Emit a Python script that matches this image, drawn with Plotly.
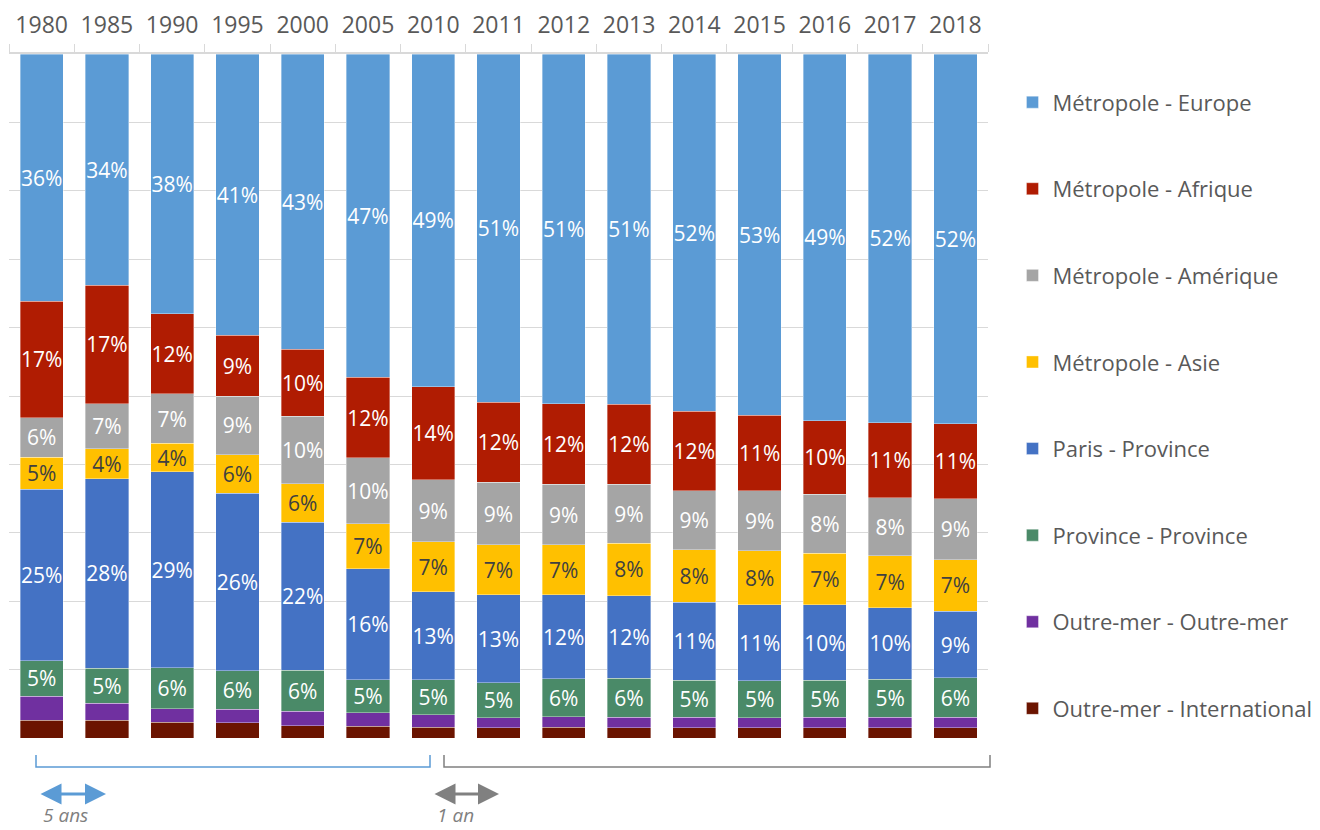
import plotly.graph_objects as go

years = ["1980", "1985", "1990", "1995", "2000", "2005", "2010", "2011",
         "2012", "2013", "2014", "2015", "2016", "2017", "2018"]

# raw shares (%) per route, as labelled; the chart is normalised to 100 %
europe   = [36.1, 33.9, 38.0, 41.1, 43.1, 47.2, 48.7, 51.0, 51.2, 51.2, 52.2, 52.9, 49.0, 52.0, 52.2]
afrique  = [17.0, 17.3, 11.7,  8.9,  9.8, 11.8, 13.6, 11.7, 11.8, 11.7, 11.6, 11.0,  9.8, 10.6, 10.6]
amerique = [ 5.8,  6.6,  7.2,  8.6,  9.9,  9.6,  9.1,  9.1,  8.8,  8.6,  8.6,  8.8,  7.9,  8.2,  8.6]
asie     = [ 4.7,  4.4,  4.2,  5.6,  5.6,  6.6,  7.3,  7.3,  7.3,  7.7,  7.7,  7.9,  6.9,  7.3,  7.3]
paris    = [25.0, 27.8, 28.6, 26.0, 21.6, 16.2, 12.9, 12.9, 12.3, 12.1, 11.4, 11.1, 10.1, 10.1,  9.4]
province = [ 5.2,  5.1,  6.0,  5.6,  6.0,  4.8,  5.1,  5.1,  5.6,  5.7,  5.4,  5.4,  4.9,  5.4,  5.6]
om_om    = [ 3.5,  2.5,  2.0,  2.0,  2.1,  2.0,  1.8,  1.5,  1.5,  1.5,  1.5,  1.5,  1.4,  1.45, 1.45]
om_int   = [ 2.6,  2.6,  2.3,  2.2,  1.8,  1.7,  1.6,  1.5,  1.6,  1.5,  1.5,  1.5,  1.4,  1.45, 1.45]

names = ["Outre-mer - International", "Outre-mer - Outre-mer", "Province - Province",
         "Paris - Province", "Métropole - Asie", "Métropole - Amérique",
         "Métropole - Afrique", "Métropole - Europe"]
series = [om_int, om_om, province, paris, asie, amerique, afrique, europe]
colors = ["#6B1400", "#7030A0", "#4A8A68", "#4472C4", "#FFC000", "#A5A5A5", "#B01C02", "#5B9BD5"]
labelled = [False, False, True, True, True, True, True, True]
text_colors = ["white", "white", "white", "white", "#404040", "white", "white", "white"]

FONT = "Open Sans"
fig = go.Figure()
n = len(names)
for i, (nm, vals, col) in enumerate(zip(names, series, colors)):
    fig.add_trace(go.Bar(
        x=years, y=vals, name=nm,
        marker=dict(color=col, line=dict(color="rgba(255,255,255,0.6)", width=0.6)),
        text=[f"{round(v)}%" for v in vals] if labelled[i] else None,
        textposition="inside" if labelled[i] else "none",
        insidetextanchor="middle", textangle=0,
        textfont=dict(color=text_colors[i], size=21, family=FONT),
        constraintext="none",
        legendgroup=nm, legendrank=(n - i) * 10,
        hoverinfo="x+name+y",
    ))

# the page body adds an 8 px offset; figure is sized to compensate
fig.update_layout(
    width=1312, height=822,
    barmode="stack", barnorm="percent", bargap=0.337,
    plot_bgcolor="white", paper_bgcolor="white",
    margin=dict(l=1, r=332, t=46, b=92),
    font=dict(family=FONT, color="#595959"),
    xaxis=dict(side="top", type="category", showline=True, linecolor="#D9D9D9", linewidth=1.5,
               ticks="outside", tickson="boundaries", ticklen=8, tickcolor="#D9D9D9",
               ticklabelstandoff=10,
               tickfont=dict(size=23, color="#595959"), showgrid=False),
    yaxis=dict(range=[0, 100], dtick=10, showgrid=True, gridcolor="#D9D9D9", gridwidth=1,
               showticklabels=False, zeroline=False, fixedrange=True),
    showlegend=True,
    legend=dict(x=1.025, xanchor="left", y=0.96, yanchor="top", traceorder="grouped",
                tracegroupgap=55, font=dict(size=22, color="#595959"), itemwidth=30,
                bgcolor="rgba(0,0,0,0)"),
)

# brackets below the plot (paper coordinates, from reference pixel positions)
def px_x(p):
    return (p - 9) / 979.0

def px_y(p):
    return (738 - p) / 684.0

for x0, x1, col in [(36, 430, "#5B9BD5"), (444, 990, "#808080")]:
    fig.add_shape(type="path", xref="paper", yref="paper",
                  path=f"M {px_x(x0)},{px_y(755)} L {px_x(x0)},{px_y(767)} L {px_x(x1)},{px_y(767)} L {px_x(x1)},{px_y(755)}",
                  line=dict(color=col, width=1.5))

for xa, xb, col, txt in [(39, 106, "#5B9BD5", "5 ans"), (433, 499, "#808080", "1 an")]:
    fig.add_annotation(xref="paper", yref="paper", x=px_x(xb), y=px_y(794),
                       ax=-(xb - xa), ay=0, axref="pixel", ayref="pixel",
                       text="", showarrow=True, arrowhead=2, startarrowhead=2,
                       arrowside="end+start", arrowsize=1.4, startarrowsize=1.4,
                       arrowwidth=3, arrowcolor=col)
    fig.add_annotation(xref="paper", yref="paper", x=px_x(xa + 2), y=px_y(815),
                       xanchor="left", yanchor="middle", text=f"<i>{txt}</i>",
                       showarrow=False, font=dict(size=19, color="#7F7F7F", family=FONT))

fig.write_html("out.html")
